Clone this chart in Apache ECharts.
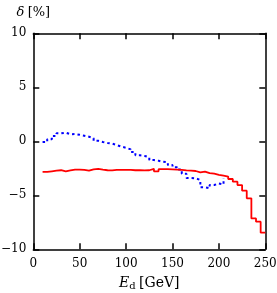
<!DOCTYPE html>
<html>
<head>
<meta charset="utf-8">
<script src="https://cdn.jsdelivr.net/npm/echarts@6/dist/echarts.min.js"></script>
<style>html,body{margin:0;padding:0;background:#fff;}#c{width:277px;height:293px;}</style>
</head>
<body>
<div id="c"></div>
<script>
// Bin lower edges start at 10 GeV, bin width 5 GeV
const binStart = 10;
const binWidth = 5;
// Red (solid) histogram values, delta [%], bins 10..250
const redValues = [-2.84,-2.78,-2.72,-2.68,-2.78,-2.7,-2.62,-2.62,-2.65,-2.72,
  -2.6,-2.55,-2.62,-2.68,-2.7,-2.65,-2.65,-2.65,-2.65,-2.68,
  -2.68,-2.7,-2.68,-2.55,-2.78,-2.58,-2.58,-2.6,-2.62,-2.65,
  -2.7,-2.72,-2.75,-2.88,-2.8,-2.95,-3.0,-3.1,-3.18,-3.27,
  -3.49,-3.74,-4.05,-4.57,-5.28,-7.14,-7.44,-8.46];
// Blue (dotted) histogram values, delta [%], bins 10..205
const blueValues = [-0.07,0.2,0.5,0.74,0.8,0.65,0.67,0.6,0.52,0.42,
  0.28,0.05,-0.07,-0.15,-0.22,-0.35,-0.5,-0.6,-0.75,-1.0,
  -1.3,-1.36,-1.48,-1.73,-1.8,-1.9,-1.95,-2.2,-2.4,-2.6,
  -3.0,-3.4,-3.43,-3.58,-4.25,-4.35,-4.05,-3.9,-4.0];
const blueEndValue = -3.4;
const xTicks = [0,50,100,150,200,250];
const yTicks = [-10,-5,0,5,10];

function histPoints(vals, endVal) {
  const pts = vals.map((v,i) => [binStart + i*binWidth, v]);
  pts.push([binStart + vals.length*binWidth, endVal !== undefined ? endVal : vals[vals.length-1]]);
  return pts;
}

const font = '"DejaVu Serif", "Liberation Serif", serif';
const chart = echarts.init(document.getElementById('c'), null, {renderer:'canvas'});
const axisLine = {show:true, onZero:false, lineStyle:{color:'#000', width:1.5}};
const tick = {show:true, inside:true, length:6, lineStyle:{color:'#000', width:1.5}};
chart.setOption({
  animation:false,
  backgroundColor:'#fff',
  grid:{left:33.3, right:11.7, top:33.3, bottom:43.7, containLabel:false, outerBoundsMode:'none'},
  xAxis:[{
    type:'value', min:xTicks[0], max:xTicks[xTicks.length-1], interval:50,
    axisLine, axisTick:tick, splitLine:{show:false},
    axisLabel:{color:'#000', fontFamily:font, fontSize:12, margin:9,
      formatter:v=>xTicks.includes(v)?String(v):''},
    name:'{i|E}{s|d} {n|[GeV]}', nameLocation:'middle', nameGap:26,
    nameTextStyle:{verticalAlign:'top', rich:{
      i:{fontFamily:font, fontStyle:'italic', fontSize:14, color:'#000'},
      s:{fontFamily:font, fontSize:10, color:'#000', verticalAlign:'bottom', padding:[6,0,0,0]},
      n:{fontFamily:font, fontSize:14, color:'#000'}}}
  },{
    type:'value', position:'top', min:0, max:250, interval:50,
    axisLine, axisTick:tick, axisLabel:{show:false}, splitLine:{show:false}
  }],
  yAxis:[{
    type:'value', min:yTicks[0], max:yTicks[yTicks.length-1], interval:5,
    axisLine, axisTick:tick, splitLine:{show:false},
    axisLabel:{color:'#000', fontFamily:font, fontSize:12, margin:7,
      formatter:v=>v<0?'\u2212'+Math.abs(v):String(v)},
    name:'{i|δ} {n|[%]}', nameLocation:'end', nameGap:14,
    nameTextStyle:{align:'center', rich:{
      i:{fontFamily:font, fontStyle:'italic', fontSize:13, color:'#000'},
      n:{fontFamily:font, fontSize:13, color:'#000'}}}
  },{
    type:'value', position:'right', min:-10, max:10, interval:5,
    axisLine, axisTick:tick, axisLabel:{show:false}, splitLine:{show:false}
  }],
  series:[{
    type:'line', step:'end', data:histPoints(redValues), symbol:'none',
    lineStyle:{color:'#ff0000', width:1.8}, z:3
  },{
    type:'line', step:'end', data:histPoints(blueValues, blueEndValue), symbol:'none',
    lineStyle:{color:'#0000ff', width:2, type:[2.5,3]}, z:2
  }]
});
</script>
</body>
</html>
